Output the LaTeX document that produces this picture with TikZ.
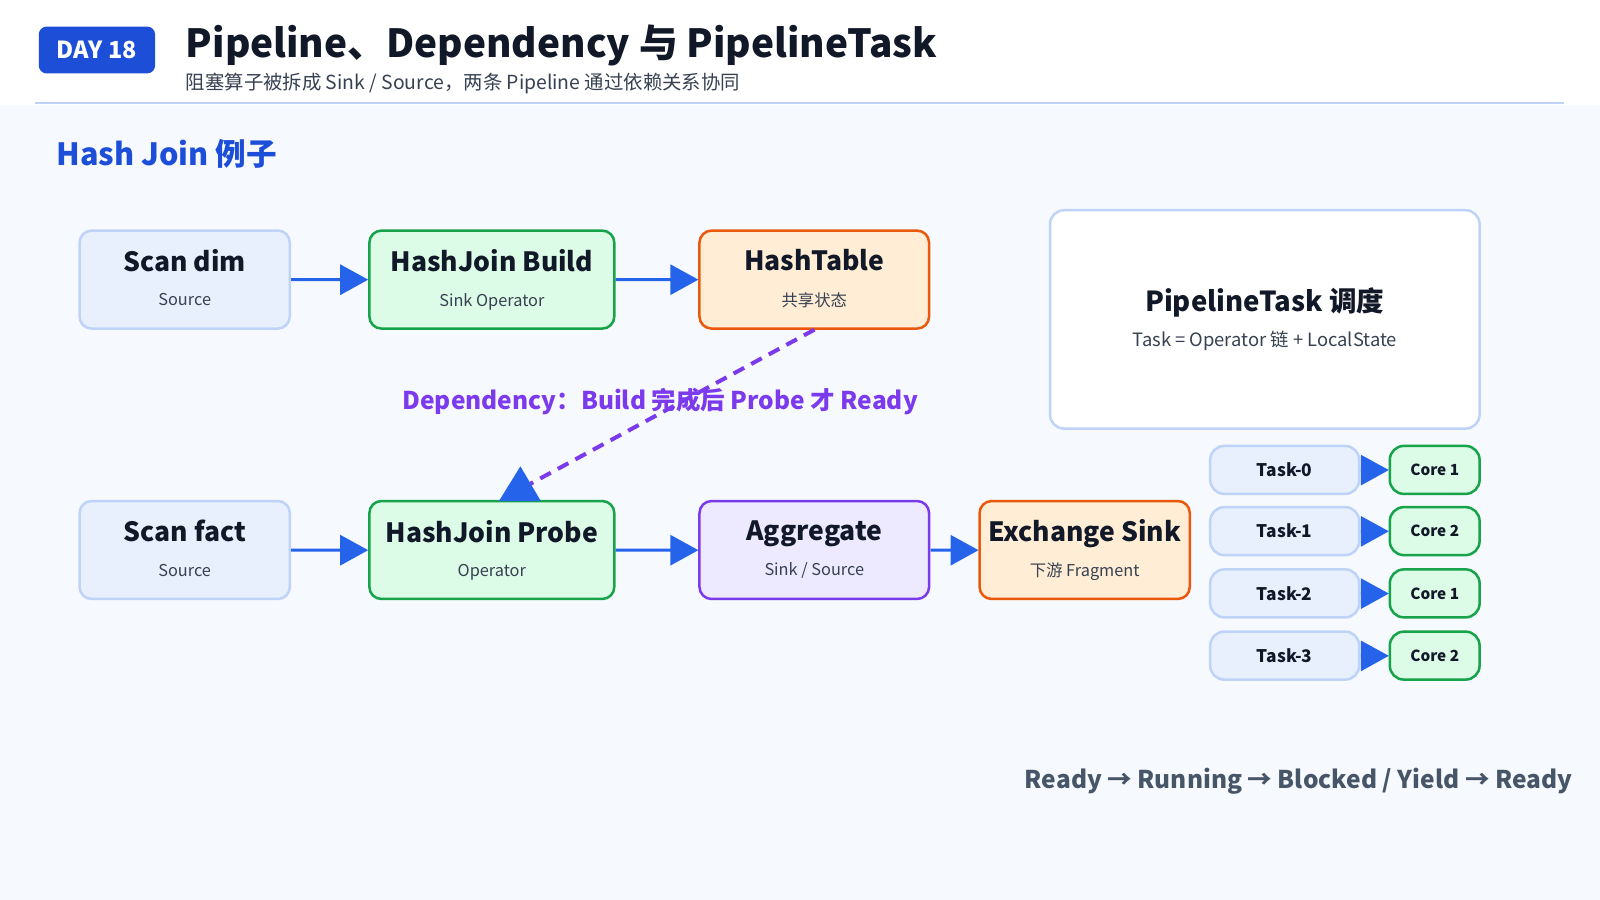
\documentclass[tikz,border=0pt]{standalone}
\usepackage{fontspec}
\setmainfont{Noto Sans CJK SC}
\usetikzlibrary{arrows.meta}
\definecolor{bg}{HTML}{F6F9FD}
\definecolor{bblue}{HTML}{1D4ED8}
\definecolor{ablue}{HTML}{2563EB}
\definecolor{lbfill}{HTML}{E8F0FE}
\definecolor{lbline}{HTML}{BFD3F8}
\definecolor{gfill}{HTML}{DCFCE7}
\definecolor{gline}{HTML}{16A34A}
\definecolor{ofill}{HTML}{FFEDD5}
\definecolor{oline}{HTML}{EA580C}
\definecolor{pfill}{HTML}{EDE9FE}
\definecolor{pline}{HTML}{7C3AED}
\definecolor{ink}{HTML}{111827}
\definecolor{sub}{HTML}{374151}
\definecolor{slate}{HTML}{475569}
\tikzset{
 box/.style={draw, line width=2.5pt, rounded corners=12pt, minimum width=#1, minimum height=96pt, inner sep=0pt},
 bl/.style={box=#1, fill=lbfill, draw=lbline},
 gr/.style={box=#1, fill=gfill, draw=gline},
 orr/.style={box=#1, fill=ofill, draw=oline},
 pu/.style={box=#1, fill=pfill, draw=pline},
 tk/.style={draw=lbline, fill=lbfill, line width=2.5pt, rounded corners=14pt, minimum width=146pt, minimum height=47pt, font=\fontsize{17}{20}\selectfont\bfseries, text=ink},
 cr/.style={draw=gline, fill=gfill, line width=2.5pt, rounded corners=14pt, minimum width=88pt, minimum height=47pt, font=\fontsize{15}{18}\selectfont\bfseries, text=ink},
 arr/.style={draw=ablue, line width=3pt, -{Triangle[length=28pt,width=30pt]}},
}
\newcommand{\bx}[2]{\begin{tabular}{@{}c@{}}{\fontsize{26}{30}\selectfont\bfseries\color{ink}#1}\\[18pt]{\fontsize{16}{20}\selectfont\color{sub}#2}\end{tabular}}
\begin{document}
\begin{tikzpicture}[scale=1.0204, transform shape, x=1pt,y=-1pt]
\useasboundingbox (0,0) rectangle (1568,882);
\fill[bg] (0,103) rectangle (1568,882);
\fill[white] (0,0) rectangle (1568,103);
\draw[lbline, line width=1.5pt] (34,101) -- (1533,101);
\node[fill=bblue, rounded corners=8pt, minimum width=114pt, minimum height=46pt, text=white, font=\fontsize{23}{26}\selectfont\bfseries] (day) at (95,49) {DAY 18};
\node[anchor=west, inner sep=0pt, font=\fontsize{38}{42}\selectfont\bfseries, text=ink] (title) at (182,45) {Pipeline、Dependency 与 PipelineTask};
\node[anchor=west, inner sep=0pt, font=\fontsize{19}{22}\selectfont, text=sub] (subt) at (182,82) {阻塞算子被拆成 Sink / Source，两条 Pipeline 通过依赖关系协同};
\node[anchor=west, inner sep=0pt, font=\fontsize{30}{34}\selectfont\bfseries, text=bblue] (hj) at (55,151) {Hash Join 例子};

\node[bl=206pt] (sd) at (181,274) {\bx{Scan dim}{Source}};
\node[gr=240pt] (hb) at (482,274) {\bx{HashJoin Build}{Sink Operator}};
\node[orr=225pt] (ht) at (798,274) {\bx{HashTable}{共享状态}};
\node[bl=206pt] (sf) at (181,539) {\bx{Scan fact}{Source}};
\node[gr=240pt] (hp) at (482,539) {\bx{HashJoin Probe}{Operator}};
\node[pu=225pt] (ag) at (798,539) {\bx{Aggregate}{Sink / Source}};
\node[orr=206pt] (ex) at (1063,539) {\bx{Exchange Sink}{下游 Fragment}};

\draw[arr] (sd) -- (hb);
\draw[arr] (hb) -- (ht);
\draw[arr] (sf) -- (hp);
\draw[arr] (hp) -- (ag);
\draw[arr] (ag) -- (ex);

\coordinate (dA) at (798,323);
\coordinate (dB) at (510,490);
\draw[pline, line width=4pt, dash pattern=on 12pt off 8pt] (dA) -- (520,474);
\fill[ablue] (510,457) -- (489,491) -- (530,491) -- cycle;
\node[font=\fontsize{24}{28}\selectfont\bfseries, text=pline] (dep) at (647,393) {Dependency：Build 完成后 Probe 才 Ready};

\node[draw=lbline, fill=white, line width=2.5pt, rounded corners=14pt, minimum width=421pt, minimum height=214pt] (pt) at (1239.5,313) {};
\node[font=\fontsize{27}{30}\selectfont\bfseries, text=ink] (ptt) at (1239.5,296) {PipelineTask 调度};
\node[font=\fontsize{18}{22}\selectfont, text=sub] (pts) at (1239.5,334) {Task = Operator 链 + LocalState};

\foreach \i/\y/\c in {0/460.5/1,1/520.5/2,2/581.5/1,3/642.5/2}{
 \node[tk] (t\i) at (1259,\y) {Task-\i};
 \node[cr] (c\i) at (1406,\y) {Core \c};
 \draw[arr] (t\i) -- (c\i);
}
\node[anchor=east, inner sep=0pt, font=\fontsize{24}{28}\selectfont\bfseries, text=slate] (st) at (1541,766) {Ready → Running → Blocked / Yield → Ready};
\end{tikzpicture}
\end{document}
